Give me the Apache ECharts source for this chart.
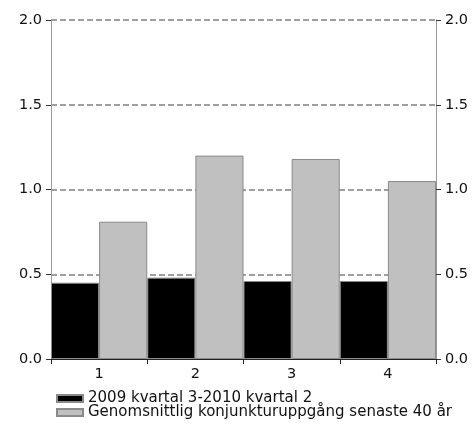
<!DOCTYPE html>
<html><head><meta charset="utf-8">
<script src="https://cdn.jsdelivr.net/npm/echarts@6/dist/echarts.min.js"></script>
<style>html,body{margin:0;padding:0;background:#fff}#c{width:472px;height:424px}</style>
</head><body><div id="c"></div>
<script>
const categories = ['1', '2', '3', '4'];
const seriesNames = ['2009 kvartal 3-2010 kvartal 2', 'Genomsnittlig konjunkturuppgång senaste 40 år'];
const recent = [0.45, 0.48, 0.46, 0.46];
const average = [0.81, 1.20, 1.18, 1.05];
const yTicks = [0, 0.5, 1.0, 1.5, 2.0];

const font = 'DejaVu Sans, Verdana, sans-serif';
const fs = 14.5;
const chart = echarts.init(document.getElementById('c'), null, {renderer: 'canvas'});
const yAxisBase = {
  type: 'value', min: yTicks[0], max: yTicks[yTicks.length - 1], interval: 0.5,
  axisLine: {show: true, lineStyle: {color: '#9a9a9a', width: 1}},
  axisTick: {show: true, length: 5, lineStyle: {color: '#333'}},
  axisLabel: {formatter: v => v.toFixed(1), color: '#111', fontSize: fs, fontFamily: font, margin: 9}
};
const legendBase = {
  orient: 'vertical', left: 56, itemWidth: 26, itemHeight: 7, padding: 0,
  icon: 'rect',
  textStyle: {fontSize: 15, fontFamily: font, color: '#111', padding: [0, 0, 0, 0]}
};
chart.setOption({
  animation: false,
  grid: {left: 51, right: 36, top: 20, bottom: 65},
  legend: [
    Object.assign({}, legendBase, {top: 391, data: [seriesNames[0]]}),
    Object.assign({}, legendBase, {top: 405, data: [seriesNames[1]]})
  ],
  xAxis: {
    type: 'category', data: categories, boundaryGap: true,
    axisLine: {show: true, lineStyle: {color: '#222', width: 1}},
    axisTick: {show: true, length: 5, lineStyle: {color: '#222'}},
    axisLabel: {color: '#111', fontSize: fs, fontFamily: font, margin: 8},
    splitLine: {show: false}
  },
  yAxis: [
    Object.assign({}, yAxisBase, {position: 'left',
      splitLine: {show: true, lineStyle: {color: '#808080', type: [6, 3], width: 1.5}}}),
    Object.assign({}, yAxisBase, {position: 'right', splitLine: {show: false}})
  ],
  series: [
    {name: seriesNames[0], type: 'bar', data: recent, barGap: '0%', barCategoryGap: '0%',
     itemStyle: {color: '#000', borderColor: '#8a8a8a', borderWidth: 1}},
    {name: seriesNames[1], type: 'bar', data: average, barGap: '0%', barCategoryGap: '0%',
     itemStyle: {color: '#c0c0c0', borderColor: '#8a8a8a', borderWidth: 1}}
  ]
});
</script></body></html>
